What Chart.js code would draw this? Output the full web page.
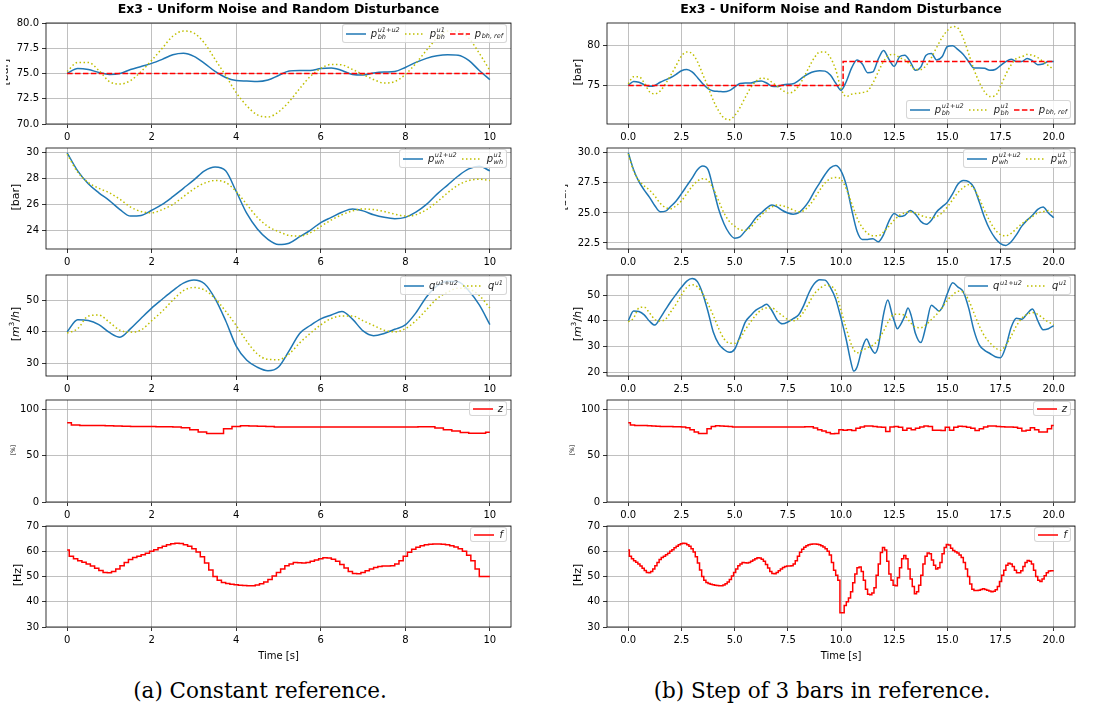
<!DOCTYPE html>
<html>
<head>
<meta charset="utf-8">
<title>Ex3 - Uniform Noise and Random Disturbance</title>
<script src="https://cdn.jsdelivr.net/npm/chart.js@4.4.1/dist/chart.umd.min.js"></script>
<style>
  html, body { margin: 0; background: #fff; }
  #fig { position: relative; width: 1096px; height: 709px; overflow: hidden; font-family: "DejaVu Sans", sans-serif; color: #000; }
  #fig canvas { position: absolute; }
  .title { position: absolute; top: 1px; font-weight: bold; font-size: 12.5px; white-space: nowrap; transform: translateX(-50%); }
  .xlabel { position: absolute; font-size: 10px; white-space: nowrap; transform: translate(-50%, -50%); }
  .caption { position: absolute; font-family: "DejaVu Serif", serif; font-size: 21.5px; white-space: nowrap; transform: translate(-50%, -50%); }
  .yclip { position: absolute; top: 0; width: 40px; height: 709px; overflow: hidden; }
  .ylabel { position: absolute; white-space: nowrap; transform: translate(-50%, -50%) rotate(-90deg); font-size: 11px; }
  .leg { position: absolute; display: flex; align-items: center; background: rgba(255,255,255,0.8); border: 1px solid rgba(204,204,204,0.8); border-radius: 3px; padding: 0 3px; box-sizing: border-box; color: #222; }
  .leg .it { display: flex; align-items: center; margin-right: 5px; }
  .leg .it:last-child { margin-right: 0; }
  .leg svg { margin-right: 5px; }
  .m { font-style: italic; font-size: 10px; line-height: 1; }
  .ss { display: inline-flex; flex-direction: column; font-size: 6.5px; line-height: 7px; font-style: italic; margin-left: 0.5px; }
  .sb { font-size: 6.5px; font-style: italic; position: relative; top: 2px; margin-left: 0.5px; }
  .sp { font-size: 6.5px; font-style: italic; position: relative; top: -3px; margin-left: 0.5px; }
</style>
</head>
<body>
<div id="fig"></div>
<script>
// ---------- data ----------
// x ticks
const xTicksA = [0, 2, 4, 6, 8, 10];
const xTicksB = [0, 2.5, 5, 7.5, 10, 12.5, 15, 17.5, 20];

// y ticks per row
const yTicksPbhA = [70, 72.5, 75, 77.5, 80];
const yTicksPbhB = [75, 80];
const yTicksPwhA = [24, 26, 28, 30];
const yTicksPwhB = [22.5, 25, 27.5, 30];
const yTicksQA = [30, 40, 50];
const yTicksQB = [20, 30, 40, 50];
const yTicksZ = [0, 50, 100];
const yTicksF = [30, 40, 50, 60, 70];

// row 1: bottom-hole pressure [bar], every 0.25 s, t = 0..10
const pbhMixA = [
  75.0, 75.5, 75.4, 75.1, 74.9, 75.0, 75.4, 75.7, 76.0, 76.4,
  76.85, 77.0, 76.7, 76.0, 75.2, 74.6, 74.3, 74.25, 74.2, 74.35,
  74.8, 75.25, 75.3, 75.3, 75.5, 75.55, 75.3, 74.9, 74.85, 75.05,
  75.15, 75.2, 75.6, 76.1, 76.5, 76.75, 76.85, 76.8, 76.3, 75.3,
  74.4];
const pbhU1A = [
  75.2, 76.1, 76.1, 75.3, 74.2, 73.95, 74.3, 75.2, 76.3, 77.5,
  78.7, 79.2, 79.0, 78.0, 76.4, 74.8, 73.1, 71.8, 70.9, 70.7,
  71.2, 72.2, 73.5, 74.7, 75.5, 75.9, 75.85, 75.4, 74.9, 74.4,
  74.05, 74.2, 74.9, 76.0, 77.3, 78.5, 79.2, 79.2, 78.5, 77.0,
  75.3];
// right column, t = 10..20
const pbhMixB = [
  74.4, 75.5, 77.2, 78.2, 77.7, 76.6, 76.7, 78.3, 79.4, 78.3,
  77.4, 78.6, 78.8, 78.0, 76.9, 77.3, 78.8, 79.0, 78.2, 78.6,
  79.9, 80.0, 79.5, 78.9, 78.0, 77.2, 77.2, 77.15, 76.9, 77.0,
  77.5, 78.0, 78.3, 78.0, 78.0, 78.4, 78.1, 77.6, 77.7, 78.0,
  78.0];
const pbhU1B = [
  74.6, 73.6, 73.9, 74.0, 74.1, 74.3, 75.3, 76.7, 78.0, 78.8,
  78.9, 78.5, 78.2, 77.6, 77.0, 77.0, 77.5, 78.5, 79.8, 81.0,
  81.9, 82.4, 82.2, 80.9, 79.0, 77.0, 75.4, 74.2, 73.6, 73.7,
  74.9, 76.4, 77.6, 78.4, 78.6, 78.9, 78.8, 78.5, 78.0, 77.5,
  77.0];
const refTA = [0, 10];
const refVA = [75, 75];
const refTB = [0, 10.1, 10.1, 20];
const refVB = [75, 75, 78, 78];

// row 2: wellhead pressure [bar]
const pwhMixA = [
  30.0, 28.6, 27.6, 26.9, 26.3, 25.6, 25.1, 25.15, 25.55, 26.0,
  26.6, 27.25, 27.9, 28.6, 28.9, 28.6, 27.0, 25.3, 24.1, 23.3,
  22.9, 23.0, 23.5, 24.0, 24.6, 25.0, 25.4, 25.65, 25.5, 25.2,
  25.0, 24.9, 25.0, 25.4, 26.0, 26.8, 27.5, 28.2, 28.75, 28.95,
  28.6];
const pwhU1A = [
  29.9, 28.5, 27.7, 27.25, 26.9, 26.4, 25.8, 25.45, 25.35, 25.6,
  26.0, 26.6, 27.2, 27.65, 27.85, 27.7, 27.0, 26.0, 25.0, 24.3,
  23.9, 23.6, 23.55, 23.8, 24.3, 24.8, 25.2, 25.5, 25.65, 25.6,
  25.45, 25.25, 25.1, 25.2, 25.6, 26.2, 26.9, 27.5, 27.85, 27.95,
  27.85];
const pwhMixB = [
  28.5, 27.3, 25.3, 23.5, 22.8, 22.8, 22.85, 22.6, 23.2, 24.3,
  24.95, 24.7, 24.8, 25.2, 24.9, 24.3, 24.05, 24.4, 25.1, 25.5,
  25.9, 26.6, 27.4, 27.7, 27.6, 27.1, 25.9, 24.6, 23.6, 22.9,
  22.45, 22.3, 22.6, 23.2, 23.9, 24.4, 24.8, 25.3, 25.5, 25.0,
  24.6];
const pwhU1B = [
  27.8, 27.0, 25.8, 24.6, 23.8, 23.3, 23.1, 23.1, 23.4, 23.9,
  24.4, 24.8, 25.0, 25.1, 25.0, 24.8, 24.65, 24.6, 24.7, 25.0,
  25.5, 26.1, 26.7, 27.1, 27.35, 27.0, 26.2, 25.2, 24.3, 23.6,
  23.2, 23.1, 23.3, 23.7, 24.1, 24.4, 24.7, 25.0, 25.1, 25.2,
  25.0];

// row 3: flow [m3/h]
const qMixA = [
  40.0, 43.8, 43.6, 42.3, 39.8, 38.3, 41.0, 44.3, 47.5, 50.3,
  53.0, 55.4, 56.4, 55.2, 50.5, 43.5, 35.5, 31.0, 28.8, 27.7,
  28.9, 34.0, 39.5, 42.0, 44.1, 45.3, 46.4, 44.0, 40.3, 38.8,
  39.5, 40.8, 42.2, 46.0, 51.0, 54.5, 56.0, 55.8, 53.0, 48.5,
  42.3];
const qU1A = [
  39.6, 41.0, 45.0, 45.3, 43.0, 40.5, 39.9, 40.6, 43.5, 46.5,
  50.0, 53.0, 54.0, 53.2, 50.5, 46.5, 42.0, 37.0, 33.0, 31.3,
  31.2, 33.0, 36.5, 39.5, 42.2, 44.2, 45.0, 45.0, 43.5, 42.0,
  40.5, 40.0, 41.0, 43.5, 47.0, 50.5, 52.5, 53.8, 53.5, 51.5,
  47.5];
// right column, t = 10..20 (irregular times at the sharp turns)
const qMixBt = [10, 10.25, 10.45, 10.6, 10.75, 11, 11.2, 11.4, 11.6, 11.75,
  12, 12.2, 12.4, 12.5, 12.65, 12.8, 13, 13.15, 13.3, 13.5,
  13.75, 14, 14.25, 14.45, 14.6, 14.75, 15, 15.25, 15.5, 15.75,
  16, 16.25, 16.5, 16.75, 17, 17.25, 17.5, 17.75, 18, 18.25,
  18.5, 18.75, 19, 19.25, 19.5, 19.75, 20];
const qMixBv = [41, 32.5, 24.5, 20.4, 21.9, 29.4, 32.9, 29.5, 27.4, 30,
  42.5, 48.1, 42.5, 40, 36.9, 38.5, 41.9, 45, 42, 35,
  31.5, 38.1, 46, 44.8, 43.8, 45, 50.6, 54.75, 53.1, 51.25,
  45, 36.25, 30.6, 28.5, 27.25, 26, 25.6, 30, 37.5, 41,
  40.6, 42.75, 44.6, 40, 36.5, 36.9, 38.1];
const qU1B = [
  44, 37, 30.5, 27.5, 28.5, 29.5, 30.5, 32.5, 36, 40,
  42.5, 42.5, 42, 39.5, 37.5, 37.3, 38.5, 40.5, 42.5, 45,
  48, 50, 51.5, 51.2, 48, 43, 38, 34, 31.5, 29.5,
  28.5, 30.5, 34, 38, 41, 42.5, 43.2, 42.5, 41, 39.5,
  38.5];

// row 4: choke opening z [%], every 0.2 s
const zA = [
  85.5, 83, 82.5, 82.5, 82.6, 82.3, 82, 81.7, 81.5, 81.3,
  81.3, 81.2, 81.2, 81, 80, 77.8, 75.5, 74, 74, 79,
  81.5, 82.3, 82, 81.6, 81.3, 81, 81, 80.9, 80.9, 80.9,
  80.9, 80.9, 80.9, 80.9, 80.9, 80.9, 80.9, 80.9, 80.9, 80.9,
  80.9, 81, 81.2, 81.2, 79.8, 78, 76.5, 75, 74.2, 74.2,
  75.3];
// right column from t = 9.4
const zB = [
  75, 73.7, 74, 78, 77.5, 78, 77, 79.5, 81, 82,
  82, 81.5, 81, 80.5, 76, 81, 81.5, 80.5, 77.5, 79.5,
  78, 79.5, 81, 82, 81.5, 77.5, 77.5, 77, 80.5, 77.5,
  80.5, 81.8, 81.3, 80.5, 79.5, 77, 79, 81, 82, 82,
  81.5, 81.2, 81, 80.8, 80.5, 79.5, 76.5, 77.5, 80, 78,
  75.5, 75.5, 79, 82.5];

// row 5: pump frequency f [Hz], every 0.1 s
const fA = [
  60.5, 58, 57, 56.2, 55.6, 55, 54.2, 53.3, 52.4, 51.6,
  51.5, 52, 53, 54.3, 55.5, 56.7, 57.5, 58, 58.6, 59.2,
  60, 60.6, 61.4, 62, 62.6, 63, 63.2, 63.1, 62.6, 62,
  61, 59.7, 57.8, 55.3, 52.6, 50, 48.5, 47.6, 47.2, 46.9,
  46.7, 46.5, 46.4, 46.3, 46.3, 46.6, 47.1, 47.8, 48.8, 50.2,
  51.6, 53, 54.3, 55, 55.5, 55.4, 55.3, 55.5, 56, 56.5,
  57, 57.4, 57.3, 56.8, 56, 54.8, 53.4, 52, 51.2, 51.1,
  51.6, 52.3, 53, 53.6, 54, 54.2, 54.2, 54.3, 55, 56.2,
  58, 59.6, 60.8, 61.6, 62.2, 62.6, 62.8, 62.9, 62.9, 62.8,
  62.6, 62.2, 61.7, 61, 60, 58.4, 56.2, 53, 50, 50,
  50];
// right column from t = 9.5
const fB = [
  58.5, 55.5, 52.5, 50.5, 48.5,
  35.6, 35.6, 38.5, 40, 41.5, 44, 47.5, 51, 53.5, 53.8,
  52, 48.5, 45, 43, 42.8, 43.5, 45.5, 50.5, 55, 59.5,
  61.5, 60.5, 56, 51, 48.5, 46.5, 46.3, 49.5, 53.5, 57,
  58.3, 57, 53, 49, 46, 43.2, 44, 46.5, 50.5, 55,
  58, 59.3, 59, 56.5, 54.5, 53, 53.5, 55.5, 59, 61.5,
  62.7, 62.5, 61.2, 60.3, 59.8, 59.3, 58.5, 57.5, 55.5, 53,
  50, 47, 45, 44.5, 44.5, 44.6, 44.9, 45.1, 44.9, 44.6,
  44.3, 44, 44.2, 44.8, 46, 48, 50.5, 52.5, 54.5, 55.2,
  55, 54, 52.5, 51.5, 51.5, 52.3, 54, 55.5, 56.3, 56,
  55, 52.5, 50, 48.5, 48, 49, 50.3, 51.5, 52.2, 52.3,
  52.3];

// ---------- helpers ----------
const BLUE = '#1f77b4', OLIVE = '#bfbf00', RED = '#ff0000';

function pts(t0, dt, vals) {
  return vals.map((v, i) => ({ x: Math.round((t0 + i * dt) * 1000) / 1000, y: v }));
}
function pair(ts, vs) {
  return ts.map((t, i) => ({ x: t, y: vs[i] }));
}
function blue(data) {
  return { data, borderColor: BLUE, borderWidth: 1.5, pointRadius: 0, cubicInterpolationMode: 'monotone', order: 3 };
}
function olive(data) {
  return { data, borderColor: OLIVE, borderWidth: 1.5, borderDash: [1.5, 2.5], pointRadius: 0, cubicInterpolationMode: 'monotone', order: 2 };
}
function refLine(data) {
  return { data, borderColor: RED, borderWidth: 1.5, borderDash: [5.5, 2.4], pointRadius: 0, order: 1 };
}
function stepLine(data) {
  return { data, borderColor: RED, borderWidth: 1.5, pointRadius: 0, stepped: 'middle', order: 1 };
}

// ---------- layout ----------
Chart.defaults.font.family = "'DejaVu Sans', sans-serif";
Chart.defaults.font.size = 10;
Chart.defaults.color = '#000';

const fig = document.getElementById('fig');
const COLS = [{ left: 46, w: 465 }, { left: 607, w: 468 }];
const ROWS = [{ top: 20, h: 104 }, { top: 145, h: 104 }, { top: 272, h: 104 }, { top: 397, h: 105 }, { top: 523, h: 104 }];
const AXW = 46, AXH = 20, PADT = 6, PADR = 6;

// box round the axes, like matplotlib spines
const frame = {
  id: 'frame',
  afterDatasetsDraw(chart) {
    const a = chart.chartArea, ctx = chart.ctx;
    ctx.save();
    ctx.strokeStyle = '#000';
    ctx.lineWidth = 0.8;
    ctx.strokeRect(a.left, a.top, a.right - a.left, a.bottom - a.top);
    ctx.restore();
  }
};

function axis(ticks, range, dec, isX) {
  return {
    type: 'linear',
    min: range[0],
    max: range[1],
    afterBuildTicks: s => { s.ticks = ticks.map(v => ({ value: v })); },
    afterFit: s => { if (isX) s.height = AXH; else s.width = AXW; },
    ticks: { callback: v => Number(v).toFixed(dec), autoSkip: false, maxRotation: 0, padding: 3, color: '#000', font: { size: 10 } },
    grid: { color: '#b0b0b0', lineWidth: 0.8, tickColor: '#000', tickLength: 4, tickWidth: 0.8 },
    border: { display: false }
  };
}

function makePanel(p) {
  const col = COLS[p.c], row = ROWS[p.r];
  const W = AXW + col.w + PADR, H = PADT + row.h + AXH;
  const cv = document.createElement('canvas');
  cv.width = W; cv.height = H;
  cv.style.left = (col.left - AXW) + 'px';
  cv.style.top = (row.top - PADT) + 'px';
  cv.style.width = W + 'px';
  cv.style.height = H + 'px';
  fig.appendChild(cv);
  new Chart(cv, {
    type: 'line',
    data: { datasets: p.sets },
    options: {
      responsive: false,
      animation: false,
      devicePixelRatio: 1,
      layout: { padding: { top: PADT, right: PADR, left: 0, bottom: 0 }, autoPadding: false },
      plugins: { legend: { display: false }, tooltip: { enabled: false } },
      scales: {
        x: axis(p.xt, p.xr, p.xd, true),
        y: axis(p.yt, p.yr, p.yd, false)
      }
    },
    plugins: [frame]
  });
}

const XA = [-0.5, 10.5], XB = [-1, 21];
const panels = [
  { c: 0, r: 0, xt: xTicksA, xr: XA, xd: 0, yt: yTicksPbhA, yr: [70, 80], yd: 1,
    sets: [blue(pts(0, 0.25, pbhMixA)), olive(pts(0, 0.25, pbhU1A)), refLine(pair(refTA, refVA))] },
  { c: 0, r: 1, xt: xTicksA, xr: XA, xd: 0, yt: yTicksPwhA, yr: [22.55, 30.37], yd: 0,
    sets: [blue(pts(0, 0.25, pwhMixA)), olive(pts(0, 0.25, pwhU1A))] },
  { c: 0, r: 2, xt: xTicksA, xr: XA, xd: 0, yt: yTicksQA, yr: [26.05, 57.95], yd: 0,
    sets: [blue(pts(0, 0.25, qMixA)), olive(pts(0, 0.25, qU1A))] },
  { c: 0, r: 3, xt: xTicksA, xr: XA, xd: 0, yt: yTicksZ, yr: [0, 110], yd: 0,
    sets: [stepLine(pts(0, 0.2, zA))] },
  { c: 0, r: 4, xt: xTicksA, xr: XA, xd: 0, yt: yTicksF, yr: [30, 70], yd: 0,
    sets: [stepLine(pts(0, 0.1, fA))] },

  { c: 1, r: 0, xt: xTicksB, xr: XB, xd: 1, yt: yTicksPbhB, yr: [70.15, 82.85], yd: 0,
    sets: [blue(pts(0, 0.25, pbhMixA.slice(0, 40)).concat(pts(10, 0.25, pbhMixB))),
           olive(pts(0, 0.25, pbhU1A.slice(0, 40)).concat(pts(10, 0.25, pbhU1B))),
           refLine(pair(refTB, refVB))] },
  { c: 1, r: 1, xt: xTicksB, xr: XB, xd: 1, yt: yTicksPwhB, yr: [22.0, 30.4], yd: 1,
    sets: [blue(pts(0, 0.25, pwhMixA.slice(0, 40)).concat(pts(10, 0.25, pwhMixB))),
           olive(pts(0, 0.25, pwhU1A.slice(0, 40)).concat(pts(10, 0.25, pwhU1B)))] },
  { c: 1, r: 2, xt: xTicksB, xr: XB, xd: 1, yt: yTicksQB, yr: [18.5, 57.8], yd: 0,
    sets: [blue(pts(0, 0.25, qMixA.slice(0, 40)).concat(pair(qMixBt, qMixBv))),
           olive(pts(0, 0.25, qU1A.slice(0, 40)).concat(pts(10, 0.25, qU1B)))] },
  { c: 1, r: 3, xt: xTicksB, xr: XB, xd: 1, yt: yTicksZ, yr: [0, 110], yd: 0,
    sets: [stepLine(pts(0, 0.2, zA.slice(0, 47)).concat(pts(9.4, 0.2, zB)))] },
  { c: 1, r: 4, xt: xTicksB, xr: XB, xd: 1, yt: yTicksF, yr: [30, 70], yd: 0,
    sets: [stepLine(pts(0, 0.1, fA.slice(0, 95)).concat(pts(9.5, 0.1, fB)))] }
];
panels.forEach(makePanel);

// ---------- text ----------
function addText(cls, html, x, y) {
  const d = document.createElement('div');
  d.className = cls;
  d.innerHTML = html;
  d.style.left = x + 'px';
  if (y !== null) d.style.top = y + 'px';
  fig.appendChild(d);
  return d;
}
const TITLE = 'Ex3 - Uniform Noise and Random Disturbance';
addText('title', TITLE, 278.5, null);
addText('title', TITLE, 841, null);
addText('xlabel', 'Time [s]', 278.5, 655);
addText('xlabel', 'Time [s]', 841, 655);
addText('caption', '(a) Constant reference.', 260, 690);
addText('caption', '(b) Step of 3 bars in reference.', 822, 690);

// y labels, clipped at the edge of each sub-figure
const clipX = [6, 565];
const clips = clipX.map(x => {
  const d = document.createElement('div');
  d.className = 'yclip';
  d.style.left = x + 'px';
  fig.appendChild(d);
  return d;
});
const M3H = '[<i>m</i><sup style="font-size:7px">3</sup>/<i>h</i>]';
const yLabels = [
  [0, 0, '[bar]', 4, 11], [0, 1, '[bar]', 15, 11], [0, 2, M3H, 15, 11], [0, 3, '[%]', 12, 6], [0, 4, '[Hz]', 17, 11],
  [1, 0, '[bar]', 577, 11], [1, 1, '[bar]', 562, 11], [1, 2, M3H, 577, 11], [1, 3, '[%]', 571, 6], [1, 4, '[Hz]', 577, 11]
];
yLabels.forEach(([c, r, html, x, size]) => {
  const d = document.createElement('div');
  d.className = 'ylabel';
  d.innerHTML = html;
  d.style.fontSize = size + 'px';
  d.style.left = (x - clipX[c]) + 'px';
  d.style.top = (ROWS[r].top + ROWS[r].h / 2) + 'px';
  clips[c].appendChild(d);
});

// ---------- legends ----------
function sym(base, sup, sub) {
  return `<span class="m">${base}</span><span class="ss"><span>${sup}</span><span>${sub}</span></span>`;
}
const L_PBH_MIX = sym('p', 'u1+u2', 'bh');
const L_PBH_U1 = sym('p', 'u1', 'bh');
const L_PBH_REF = '<span class="m">p</span><span class="sb">bh, ref</span>';
const L_PWH_MIX = sym('p', 'u1+u2', 'wh');
const L_PWH_U1 = sym('p', 'u1', 'wh');
const L_Q_MIX = '<span class="m">q</span><span class="sp">u1+u2</span>';
const L_Q_U1 = '<span class="m">q</span><span class="sp">u1</span>';
const L_Z = '<span class="m">z</span>';
const L_F = '<span class="m">f</span>';

function handle(kind, color) {
  const dash = kind === 'dot' ? '1.5,2.5' : kind === 'dash' ? '5.5,2.4' : '';
  return `<svg width="20" height="4"><line x1="0" y1="2" x2="20" y2="2" stroke="${color}" stroke-width="1.5"${dash ? ` stroke-dasharray="${dash}"` : ''}/></svg>`;
}
function legend(c, r, items, corner) {
  const col = COLS[c], row = ROWS[r];
  const el = document.createElement('div');
  el.className = 'leg';
  el.innerHTML = items.map(([k, color, label]) => `<span class="it">${handle(k, color)}${label}</span>`).join('');
  el.style.right = (1096 - (col.left + col.w - 4)) + 'px';
  if (corner === 'lr') el.style.bottom = (709 - (row.top + row.h - 5)) + 'px';
  else el.style.top = (row.top + 4) + 'px';
  el.style.height = (r >= 3 ? 15 : 19) + 'px';
  fig.appendChild(el);
}
const legPbh = [['solid', BLUE, L_PBH_MIX], ['dot', OLIVE, L_PBH_U1], ['dash', RED, L_PBH_REF]];
const legPwh = [['solid', BLUE, L_PWH_MIX], ['dot', OLIVE, L_PWH_U1]];
const legQ = [['solid', BLUE, L_Q_MIX], ['dot', OLIVE, L_Q_U1]];
legend(0, 0, legPbh, 'ur');
legend(1, 0, legPbh, 'lr');
[0, 1].forEach(c => {
  legend(c, 1, legPwh, 'ur');
  legend(c, 2, legQ, 'ur');
  legend(c, 3, [['solid', RED, L_Z]], 'ur');
  legend(c, 4, [['solid', RED, L_F]], 'ur');
});
</script>
</body>
</html>
